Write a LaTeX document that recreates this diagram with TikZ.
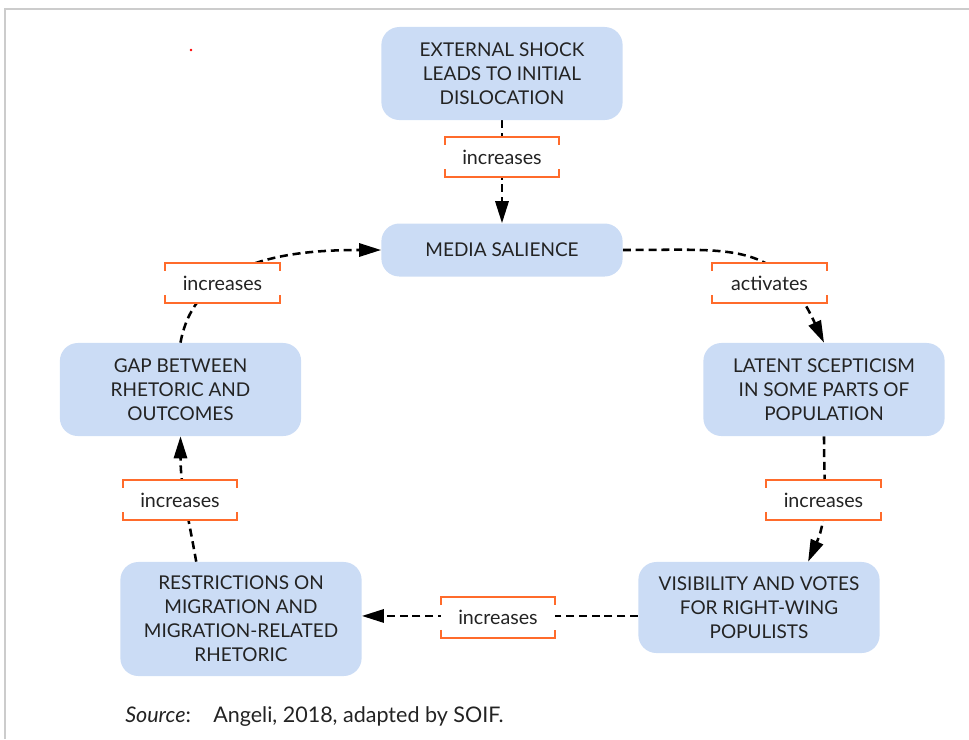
\documentclass[tikz,border=0pt]{standalone}
\usepackage{fontspec}
\setmainfont{Lato}
\usetikzlibrary{arrows.meta, backgrounds}

\definecolor{BoxFill}{RGB}{203,220,245}
\definecolor{TagLine}{RGB}{255,107,43}
\definecolor{InkGray}{RGB}{35,35,35}
\definecolor{FrameGray}{RGB}{204,204,204}

\tikzset{
    factor/.style = {rectangle, rounded corners=0.45cm, fill=BoxFill, text=InkGray, align=center,
        minimum width=6.03cm, minimum height=2.325cm, inner sep=0pt, font=\fontsize{13.5}{17}\selectfont},
    tag/.style = {rectangle, fill=white, text=InkGray, minimum width=2.85cm, minimum height=1cm,
        inner sep=0pt, font=\fontsize{14}{17}\selectfont},
    bracket/.style = {draw=TagLine, line width=1.6pt},
    flow/.style = {draw=black, line width=1.8pt, dash pattern=on 2mm off 1.2mm,
        -{Triangle[length=5.5mm, width=3.3mm]}},
    srcnote/.style = {anchor=base west, inner sep=0pt, text=InkGray, font=\fontsize{15.3}{18}\selectfont},
}

\begin{document}
\begin{tikzpicture}[x=0.025cm, y=-0.025cm]

    \useasboundingbox (0,0) rectangle (969,739);
    \draw [FrameGray, line width=2pt] (5,739) -- (5,9) -- (969,9);
    \fill [red] (191,50) circle (0.035cm);

    % factors
    \node [factor] (shock) at (502,73.5) {EXTERNAL SHOCK\\LEADS TO INITIAL\\DISLOCATION};
    \node [factor, minimum height=1.325cm] (media) at (502,250) {MEDIA SALIENCE};
    \node [factor] (latent) at (824,389.5) {LATENT SCEPTICISM\\IN SOME PARTS OF\\POPULATION};
    \node [factor, minimum height=2.275cm] (visib) at (759,607.5) {VISIBILITY AND VOTES\\FOR RIGHT-WING\\POPULISTS};
    \node [factor, minimum height=2.85cm] (restr) at (241,619) {RESTRICTIONS ON\\MIGRATION AND\\MIGRATION-RELATED\\RHETORIC};
    \node [factor] (gap) at (180.5,389.5) {GAP BETWEEN\\RHETORIC AND\\OUTCOMES};

    % tags on the links
    \node [tag] (t1) at (502,157) {increases};
    \node [tag] (t2) at (769.5,283) {activates};
    \node [tag] (t3) at (823.5,500) {increases};
    \node [tag] (t4) at (498,617.5) {increases};
    \node [tag] (t5) at (180,500) {increases};
    \node [tag] (t6) at (222.5,283) {increases};

    \foreach \t in {t1,t2,t3,t4,t5,t6} {
        \draw [bracket] ([yshift=-2mm]\t.north west) -- (\t.north west) -- (\t.north east) -- ([yshift=-2mm]\t.north east);
        \draw [bracket] ([yshift=2mm]\t.south west) -- (\t.south west) -- (\t.south east) -- ([yshift=2mm]\t.south east);
    }

    % links
    \begin{pgfonlayer}{background}
        \draw [flow] (shock) -- (media);
        \draw [flow] (media.east) to [out=0, in=115, looseness=1.3] (latent.north);
        \draw [flow] (latent.south) to [out=-90, in=66] (visib.43);
        \draw [flow] (visib.184) -- (visib.184 -| restr.east);
        \draw [flow] (restr.128) to [out=100, in=-90] (gap.south);
        \draw [flow] (gap.north) to [out=80, in=180] (media.west);
    \end{pgfonlayer}

    \node [srcnote] (srclabel) at (125,722) {\textit{Source}:};
    \node [srcnote] (srctext) at (213,722) {Angeli, 2018, adapted by SOIF.};

\end{tikzpicture}
\end{document}
